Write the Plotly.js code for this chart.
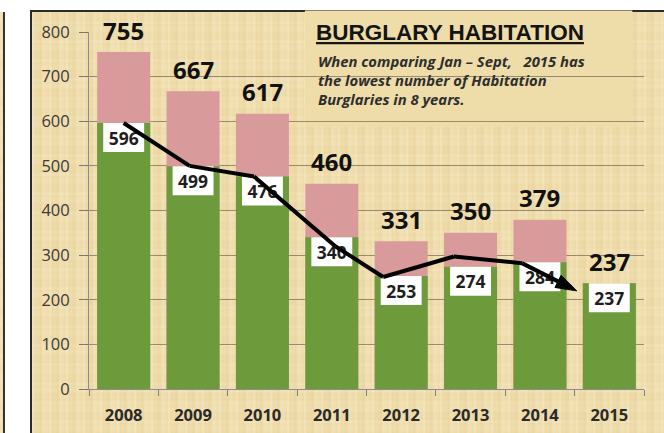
<!DOCTYPE html>
<html>
<head>
<meta charset="utf-8">
<script src="https://cdn.plot.ly/plotly-3.0.1.min.js"></script>
<style>
  html, body { margin:0; padding:0; background:#ffffff; width:664px; height:433px; overflow:hidden; }
  .papyrus {
    background-color:#eedba9;
    background-image:
      repeating-linear-gradient(90deg, rgba(255,247,222,0.22) 0px, rgba(255,247,222,0.22) 2px, rgba(215,185,120,0.10) 3px, rgba(255,247,222,0) 5px, rgba(205,175,110,0.11) 9px, rgba(255,247,222,0.18) 11px, rgba(255,247,222,0) 17px),
      repeating-linear-gradient(0deg, rgba(255,248,225,0.14) 0px, rgba(255,248,225,0.14) 2px, rgba(210,182,118,0.06) 4px, rgba(255,248,225,0) 7px, rgba(215,185,120,0.05) 10px, rgba(255,248,225,0.12) 13px, rgba(255,248,225,0) 19px);
  }
  #strip { position:absolute; left:0; top:12px; width:3px; height:421px; border-right:2px solid #333; }
  #panel { position:absolute; left:30px; top:10px; width:640px; height:430px; border-left:2px solid #2b2b2b; border-top:2px solid #2b2b2b; }
  #chart { position:absolute; left:0; top:0; width:664px; height:433px; }
</style>
</head>
<body>
<div id="strip" class="papyrus"></div>
<div id="panel" class="papyrus"></div>
<div id="chart"></div>
<script>
// ---- data ----
const years = ['2008','2009','2010','2011','2012','2013','2014','2015'];
const totals = [755, 667, 617, 460, 331, 350, 379, 237];      // full-year totals (pink)
const janSept = [596, 499, 476, 340, 253, 274, 284, 237];     // Jan - Sept (green)
// hand-drawn trend arrow (category index positions, values)
const trendX = [0, 0.95, 1.88, 3.05, 3.74, 4.76, 5.74, 6.53];
const trendY = [596, 500, 476, 320, 251, 297, 282, 220];

const idx = years.map((_, i) => i);
const bounds = years.concat(['']).map((_, i) => i - 0.5);
const BOX_H = 65;    // label box height in axis units
const GREEN = '#6d9a3a';
const PINK = '#d99a9b';
const FONT = 'Open Sans, Liberation Sans, sans-serif';

const traces = [
  { type:'bar', x: idx, y: totals, width:0.764, marker:{color:PINK}, hoverinfo:'skip', showlegend:false },
  { type:'bar', x: idx, y: janSept, width:0.764, marker:{color:GREEN}, hoverinfo:'skip', showlegend:false },
  {
    type:'bar', x: idx, y: janSept.map(() => BOX_H), base: janSept.map(v => v - BOX_H),
    width: 0.59, marker:{color:'#ffffff', line:{width:0}},
    text: janSept.map(String), textposition:'inside', insidetextanchor:'middle', textangle:0,
    constraintext:'none',
    textfont:{family:FONT, size:17.5, color:'#1e1e1e', weight:'bold'},
    hoverinfo:'skip', showlegend:false
  },
  {
    type:'scatter', mode:'lines+markers', x: trendX, y: trendY,
    line:{color:'#000000', width:4},
    marker:{symbol: trendX.map((_, i) => i === trendX.length - 1 ? 'arrow' : 'circle'),
            size: trendX.map((_, i) => i === trendX.length - 1 ? 22 : 0),
            angleref:'previous', color:'#000000', opacity:1, line:{color:'#000000', width:1}},
    hoverinfo:'skip', showlegend:false
  },
  // invisible trace to activate the boundary-tick axis
  { type:'scatter', mode:'markers', x:[bounds[0]], y:[0], xaxis:'x2', marker:{size:0, opacity:0}, hoverinfo:'skip', showlegend:false }
];

const annotations = idx.map(i => ({
  x: i, y: totals[i], xref:'x', yref:'y', text: String(totals[i]),
  showarrow:false, yanchor:'middle', yshift:22,
  font:{family:FONT, size:24, color:'#111111', weight:'bold'}
}));

annotations.push({
  xref:'paper', yref:'paper', x:0.406, y:0.998, xanchor:'left', yanchor:'middle',
  text:'<b><u>BURGLARY HABITATION</u></b>', showarrow:false,
  font:{family:'Liberation Sans, Arial, sans-serif', size:22.5, color:'#141414'}
});
annotations.push({
  xref:'paper', yref:'paper', x:0.409, y:0.952, xanchor:'left', yanchor:'top', align:'left',
  text:'<b><i>When comparing Jan \u2013 Sept,\u00a0\u00a0\u00a02015 has<br>the lowest number of Habitation<br>Burglaries in 8 years.</i></b>',
  showarrow:false,
  font:{family:FONT, size:14.8, color:'#2e2e2e'}
});

const layout = {
  width:664, height:433,
  margin:{l:89, r:20, t:32, b:44, pad:0},
  paper_bgcolor:'rgba(0,0,0,0)', plot_bgcolor:'rgba(0,0,0,0)',
  barmode:'overlay',
  xaxis:{
    range:[-0.5, 7.5], tickmode:'array', tickvals: idx, ticktext: years, ticks:'',
    showline:true, linecolor:'#8a8a98', linewidth:1, showgrid:false, zeroline:false,
    tickfont:{family:FONT, size:16.5, color:'#2a2a2a', weight:'bold'},
    ticklabelstandoff:11, fixedrange:true
  },
  xaxis2:{
    overlaying:'x', anchor:'y', side:'bottom', range:[-0.5, 7.5], tickmode:'array', tickvals: bounds,
    showticklabels:false, ticks:'outside', ticklen:6, tickcolor:'#7d7d88',
    showline:false, showgrid:false, zeroline:false, fixedrange:true
  },
  yaxis:{
    range:[0,800], dtick:100, ticks:'outside', ticklen:9, tickcolor:'#7d7868',
    showline:true, linecolor:'#8a8a98', linewidth:1,
    showgrid:true, gridcolor:'rgba(95,85,65,0.6)', gridwidth:1, zeroline:false,
    tickfont:{family:FONT, size:16.5, color:'#3a3a3a'},
    ticklabelstandoff:6, fixedrange:true
  },
  shapes:[{
    type:'rect', xref:'paper', yref:'paper', x0:0.389, x1:0.979, y0:0.735, y1:1.06,
    layer:'between', line:{width:0}, fillcolor:'#eedca9'
  }],
  annotations: annotations
};

Plotly.newPlot('chart', traces, layout, {displayModeBar:false, staticPlot:true});
</script>
</body>
</html>
